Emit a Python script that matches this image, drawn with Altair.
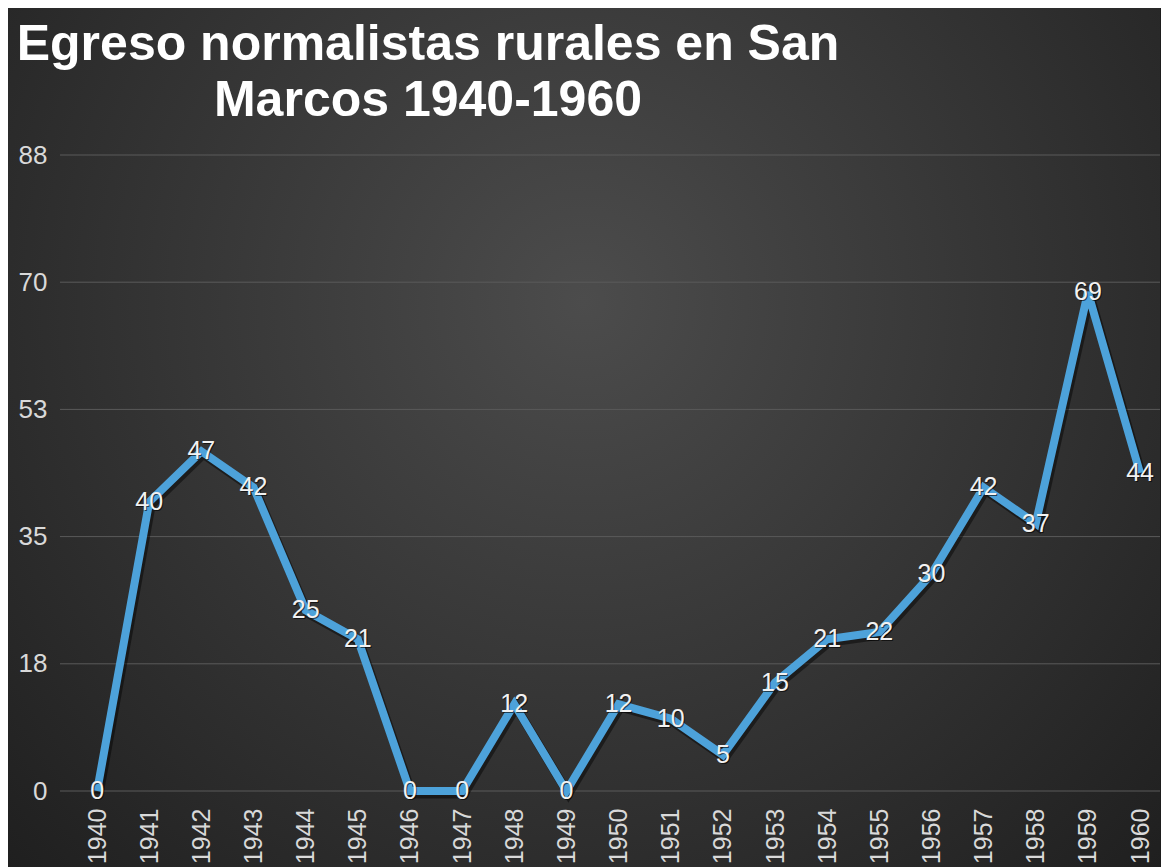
import altair as alt
import pandas as pd

# ---- data ----
years = [str(y) for y in range(1940, 1961)]
values = [0, 40, 47, 42, 25, 21, 0, 0, 12, 0, 12, 10, 5, 15, 21, 22, 30, 42, 37, 69, 44]
y_ticks = [0, 17.6, 35.2, 52.8, 70.4, 88]
title_lines = ["Egreso normalistas rurales en San", "Marcos 1940-1960"]

df = pd.DataFrame({"year": years, "value": values})
grid_df = pd.DataFrame({"value": y_ticks})
bg_df = pd.DataFrame({"a": [0]})

W, H = 1100, 636
FONT = "Liberation Sans"

x_scale = alt.Scale(type="point", padding=0.547, align=0.65)
y_scale = alt.Scale(domain=[0, 88], nice=False, zero=True)

x_axis = alt.Axis(
    title=None, labelAngle=270, labelFontSize=25, labelFont=FONT,
    labelColor="#d9d9d9", labelPadding=17, ticks=False, domain=False,
    grid=False, zindex=1,
)
y_axis = alt.Axis(
    title=None, values=y_ticks, format=".0f", labelFontSize=26,
    labelFont=FONT, labelColor="#d9d9d9", labelPadding=13, ticks=False,
    domain=False, grid=False, zindex=1,
)
x_enc = alt.X("year:O", scale=x_scale, axis=x_axis)
y_enc = alt.Y("value:Q", scale=y_scale, axis=y_axis)

# background panel with a radial gradient (Excel dark style)
bg = alt.Chart(bg_df).mark_rect(
    fill={
        "gradient": "radial",
        "x1": 0.5, "y1": 0.38, "r1": 0,
        "x2": 0.5, "y2": 0.38, "r2": 0.75,
        "stops": [
            {"offset": 0, "color": "#4c4c4c"},
            {"offset": 1, "color": "#1c1c1c"},
        ],
    }
).encode(
    x=alt.value(-52), x2=alt.value(W), y=alt.value(-147), y2=alt.value(H + 80)
)

grid = alt.Chart(grid_df).mark_rule(color="#5a5a5a", strokeWidth=1).encode(
    y=y_enc
)

shadow = alt.Chart(df).mark_line(
    color="#000000", opacity=0.45, strokeWidth=9, strokeJoin="miter"
).encode(
    x=x_enc, y=y_enc, xOffset=alt.value(2), yOffset=alt.value(3),
)

line = alt.Chart(df).mark_line(
    color="#4da2da", strokeWidth=8, strokeJoin="miter"
).encode(x=x_enc, y=y_enc)

label_shadow = alt.Chart(df).mark_text(
    fontSize=25, font=FONT, color="#000000", opacity=0.6, dx=1, dy=1
).encode(x=x_enc, y=y_enc, text="value:Q")

labels = alt.Chart(df).mark_text(
    fontSize=25, font=FONT, color="#f2f2f2"
).encode(x=x_enc, y=y_enc, text="value:Q")

chart = alt.layer(bg, grid, shadow, line, label_shadow, labels).properties(
    width=W,
    height=H,
    padding=0,
    background="#1d1d1d",
    title=alt.TitleParams(
        text=title_lines,
        anchor="start",
        frame="group",
        align="center",
        dx=368,
        baseline="bottom",
        offset=-168,
        fontSize=50,
        font=FONT,
        fontWeight="bold",
        color="#ffffff",
        lineHeight=56,
    ),
).configure_view(stroke=None)

chart.save("out.html", embed_options={"renderer": "svg", "actions": False})
